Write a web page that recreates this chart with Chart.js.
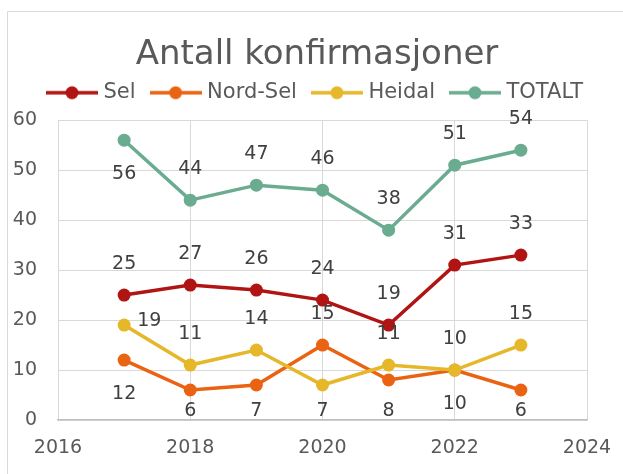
<!DOCTYPE html>
<html><head><meta charset="utf-8">
<script src="https://cdn.jsdelivr.net/npm/chart.js@4.4.1/dist/chart.umd.min.js"></script>
<style>html,body{margin:0;padding:0;background:#fff;}#wrap{position:relative;width:623px;height:474px;}</style>
</head><body><div id="wrap"><canvas id="c" width="623" height="474"></canvas></div>
<script>
// ---- data ----
const chartTitle = 'Antall konfirmasjoner';
const years = [2017, 2018, 2019, 2020, 2021, 2022, 2023];
const sel = [25, 27, 26, 24, 19, 31, 33];
const nordSel = [12, 6, 7, 15, 8, 10, 6];
const heidal = [19, 11, 14, 7, 11, 10, 15];
const totalt = [56, 44, 47, 46, 38, 51, 54];
const seriesNames = ['Sel', 'Nord-Sel', 'Heidal', 'TOTALT'];
const xTickValues = [2016, 2018, 2020, 2022, 2024];
const yTickValues = [0, 10, 20, 30, 40, 50, 60];

// ---- styles ----
const FONT = '"DejaVu Sans", sans-serif';
const colors = ['#B01513', '#EA6312', '#E6B729', '#6AAC90'];
// a = above, b = below, r = right
const labelPlacement = [
  ['a','a','a','a','a','a','a'],
  ['b','b','b','a','b','b','b'],
  ['r','a','a','b','a','a','a'],
  ['b','a','a','a','a','a','a']
];

const seriesValues = [sel, nordSel, heidal, totalt];

function legendImage(color) {
  const c = document.createElement('canvas');
  c.width = 52; c.height = 16;
  const g = c.getContext('2d');
  g.strokeStyle = color; g.lineWidth = 3.5; g.lineCap = 'butt';
  g.beginPath(); g.moveTo(0, 8); g.lineTo(52, 8); g.stroke();
  g.fillStyle = color; g.beginPath(); g.arc(26, 8, 6.5, 0, Math.PI * 2); g.fill();
  return c;
}
const legendImages = colors.map(legendImage);

const frame = {
  id: 'frame',
  beforeDraw(chart) {
    const ctx = chart.ctx;
    ctx.save();
    ctx.fillStyle = '#fff';
    ctx.fillRect(0, 0, chart.width, chart.height);
    ctx.strokeStyle = '#d9d9d9'; ctx.lineWidth = 1;
    ctx.beginPath();
    ctx.moveTo(7.5, chart.height); ctx.lineTo(7.5, 11.5); ctx.lineTo(chart.width, 11.5);
    ctx.stroke();
    ctx.restore();
  }
};

const valueLabels = {
  id: 'valueLabels',
  afterDatasetsDraw(chart) {
    const ctx = chart.ctx, area = chart.chartArea;
    ctx.save();
    ctx.font = '19px ' + FONT;
    ctx.fillStyle = '#404040';
    ctx.textBaseline = 'middle';
    chart.data.datasets.forEach((ds, di) => {
      const meta = chart.getDatasetMeta(di);
      meta.data.forEach((pt, i) => {
        const v = ds.data[i].y;
        const pos = labelPlacement[di][i];
        let x = pt.x, y = pt.y;
        if (pos === 'a') { ctx.textAlign = 'center'; y -= 31; }
        else if (pos === 'b') { ctx.textAlign = 'center'; y = Math.min(y + 34, area.bottom - 9); }
        else { ctx.textAlign = 'left'; x += 13; y -= 4; }
        ctx.fillText(String(v), x, y);
      });
    });
    ctx.restore();
  }
};

const datasets = seriesNames.map((name, i) => ({
  label: name,
  data: years.map((yr, k) => ({ x: yr, y: seriesValues[i][k] })),
  borderColor: colors[i],
  backgroundColor: colors[i],
  pointBackgroundColor: colors[i],
  pointBorderColor: colors[i],
  borderWidth: 3.5,
  pointRadius: 6.5,
  pointBorderWidth: 0,
  pointStyle: 'circle',
  tension: 0,
  order: seriesNames.length - 1 - i
}));

new Chart(document.getElementById('c'), {
  type: 'line',
  data: { datasets },
  plugins: [frame, valueLabels],
  options: {
    responsive: false,
    animation: false,
    devicePixelRatio: 1,
    layout: { padding: { left: 11, right: 0, top: 0, bottom: 0 } },
    plugins: {
      tooltip: { enabled: false },
      title: {
        display: true,
        text: chartTitle,
        color: '#595959',
        font: { family: FONT, size: 34, weight: 'normal', lineHeight: 0.4 },
        padding: { top: 48.2, bottom: 1.4 }
      },
      subtitle: {
        display: true,
        text: ' ',
        weight: 500,
        font: { family: FONT, size: 1, lineHeight: 1 },
        padding: { top: 6, bottom: 0 }
      },
      legend: {
        display: true,
        position: 'top',
        labels: {
          usePointStyle: true,
          pointStyleWidth: 42,
          padding: 19,
          color: '#595959',
          font: { family: FONT, size: 21 },
          sort: (a, b) => a.datasetIndex - b.datasetIndex,
          generateLabels: (chart) => Chart.defaults.plugins.legend.labels.generateLabels(chart)
            .map(it => Object.assign(it, { pointStyle: legendImages[it.datasetIndex] }))
        }
      }
    },
    scales: {
      x: {
        type: 'linear',
        min: 2016, max: 2024,
        afterBuildTicks: s => { s.ticks = xTickValues.map(v => ({ value: v })); },
        afterFit: s => { s.height = 54; },
        grid: { color: '#d9d9d9', lineWidth: 1, drawTicks: true, tickLength: 17, tickColor: 'rgba(0,0,0,0)' },
        border: { color: '#bfbfbf', width: 1.5 },
        ticks: { color: '#595959', font: { family: FONT, size: 19 }, padding: 0, maxRotation: 0, callback: v => String(v) }
      },
      y: {
        min: 0, max: 60,
        afterBuildTicks: s => { s.ticks = yTickValues.map(v => ({ value: v })); },
        afterFit: s => { s.width = 47; },
        grid: { color: '#d9d9d9', lineWidth: 1, drawTicks: false },
        border: { display: false },
        ticks: { color: '#595959', font: { family: FONT, size: 19 }, padding: 21, callback: v => String(v) }
      },
      gapRight: {
        type: 'linear',
        position: 'right',
        display: true,
        afterFit: s => { s.width = 36; },
        grid: { display: false, drawTicks: false },
        border: { display: false },
        ticks: { display: false, padding: 0 }
      }
    }
  }
});
</script></body></html>
